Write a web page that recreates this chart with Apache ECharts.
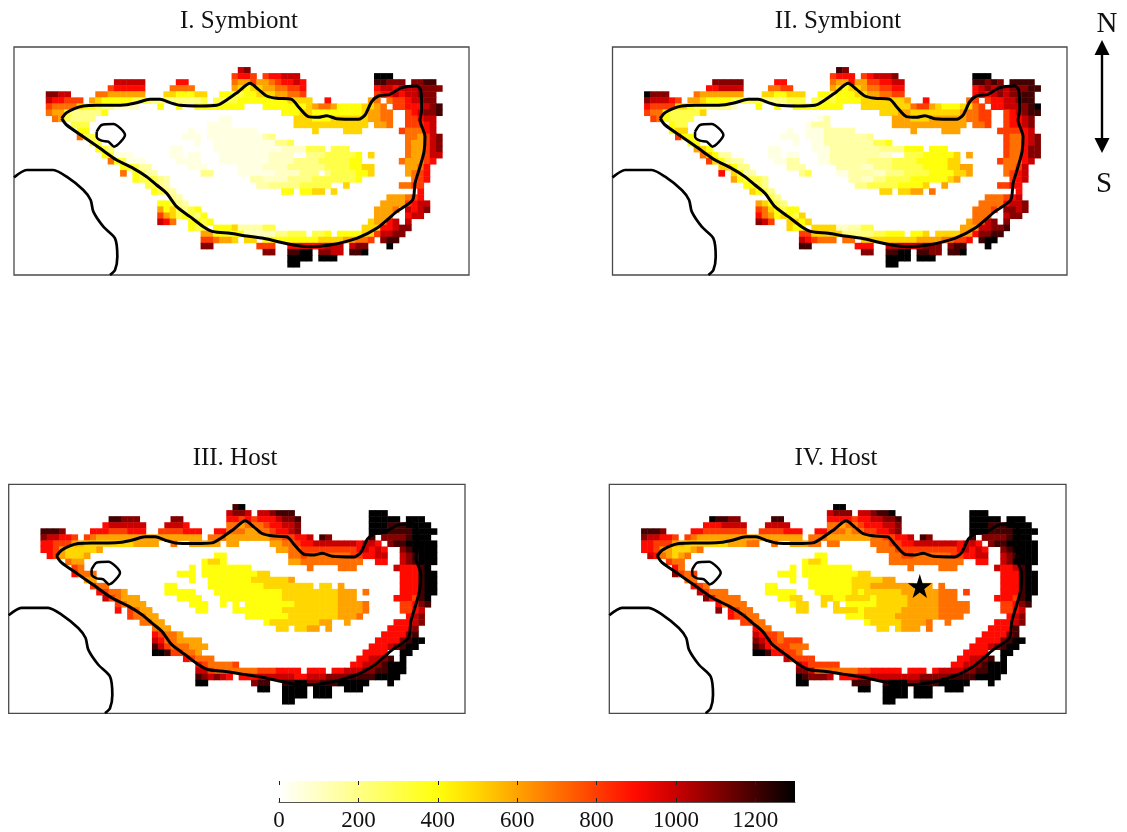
<!DOCTYPE html>
<html><head><meta charset="utf-8">
<style>html,body{margin:0;padding:0;background:#fff}#c{width:1127px;height:832px;filter:blur(0.45px)}</style>
<script src="https://cdn.jsdelivr.net/npm/echarts@6/dist/echarts.min.js"></script></head>
<body><div id="c"></div>
<script>
// Cell values. Each row: "startColumn:codes"; code digit/letter = hundreds (a=1000 ... d=1300), , = 50, ; = 150
const symbiontI = [
"31:ab","30:8998 35:899aaa 53:ddd","11:aaaaa 21:99 30:7668 34:667899a9 53:ccbbb 59:bbcc",
"10:899999 20:7777 30:6545 34:56677889 53:9aa9a 58:aabbbb",
"0:bbaa 8:77666666 19:5544455 28:44334455566 39:778 53:899a9 58:aabbb",
"0:a99888 7:65 9:4444433322 19:222222 25:3 27:33334444 35:44445 40:555 45:9 52:67 55:7889aabb",
"0:87777 5:5443221111 18:4 21:4 24:44444444 35:444444 41:45 43:6776 47:4444 51:55 53:67 56:88999abc",
"0:766 3:3222224 38:44455 43:4444444 50:45 52:6677 58:89abbc",
"1:76 3:32222 28:,, 40:555444555555 52:6677 58:889aa",
"4:333 26:,,,, 40:555555555555 53:667 58:8889a",
"5:44 23:, 26:,,,,,,,, 43:5 48:555 57:87779a",
"5:7 6:33 22:,,, 26:,,,,,,,,, 35:;2 58:7768ab",
"7:33 24:, 27:,,,,,,,,,, 37:223 58:7668ab",
"8:432 20:,, 27:,,,,,,,,,,, 38:1111 42:333 46:33 48:3 58:7668ab",
"9:43,, 13:, 20:,, 23:,, 28:,,,,,,,,1111 42:22233333 50:4 52:5 58:7668aa",
"10:743,,, 21:,,,, 28:,,,,,,,,1111 40:222 43:2333 47:3344 57:766689",
"12:443;; 23:,,, 31:,,,, 35:1111 39:2222 43:2233 47:334455 58:6679",
"12:7 14:43;; 25:22 31:,,,,,, 37:1111 41:222 45:233 48:33445 58:6789",
"14:43332; 33:;;1111 39:2222 43:3333 47:33 49:34 59:789",
"16:332; 34:;;2222 40:23333 45:3 48:5 57:7788",
"17:432; 38:44 41:4455 46:5 60:9",
"20:2; 55:6667 59:89",
"18:44 20:32; 54:6666 58:89aa",
"18:645 21:32 23:34 53:6667 58:a9ab",
"18:865 21:34 23:32 25:4 53:666 58:9aa",
"18:a97 23:44 25:34 52:566 55:9a 58:a",
"23:433 27:4444 30:5 31:;;;; 35:33 51:555 54:99abb",
"25:66 27:44444 32:11111 37:223 40:33 43:334 47:4444 51:55 53:8aabb",
"25:887665 32:55 35:444 38:4444 42:445 45:555 48:667 51:78 54:bcc",
"25:bb 34:888 39:99999 44:9aaa 49:abb 55:d",
"35:bb 39:ccdd 44:bbaa 49:ccd","39:dddd 44:ddd","39:dd"];

const symbiontII = [
"31:cb","30:8999 35:89aaab 53:ddd","11:bbbbb 21:99 30:7669 34:668899aa 53:ccbcb 59:cccc",
"10:99aaaa 20:7788 30:6545 34:56778899 53:9abab 58:abbbcc",
"0:dbbb 8:76666666 19:5544555 28:44344455667 39:788 53:9a9ab 58:abbcc",
"0:baaa98 7:66 9:5444433333 19:222233 25:3 27:33434444 35:55555 40:556 45:9 52:78 55:899aabcc",
"0:98888 5:5543322221 18:4 21:4 24:44444444 35:555555 41:55 43:7886 47:5444 51:55 53:78 56:99aaabcd",
"0:877 3:4333335 38:55566 43:5555555 50:56 52:7788 58:89abcc",
"1:87 3:43333 28:,; 40:666555666666 52:7788 58:899ab",
"4:433 26:,;;; 40:666666666666 53:778 58:899ab",
"4:4 5:55 23:, 26:,,,;;;;; 43:6 48:666 57:88889a",
"5:8 6:44 22:,,, 26:,,,;;;;;; 35:;2 58:8779ab",
"7:44 24:, 27:,,;;;;;;;; 37:334 58:8779ab",
"8:654 20:,, 27:,,,;;;;;;;; 38:2222 42:444 46:44 48:4 58:8779bb",
"9:754;; 13:; 20:,, 23:,, 28:,,;;;;;;;;11 42:33344444 50:5 52:6 58:8779bb",
"10:8542;; 21:,,;; 28:,,;;;;;;2222 40:333 43:3444 47:4455 57:87779a",
"12:55422 23:;;; 31:;;;; 35:1122 39:2333 43:3344 47:445566 58:778a",
"12:9 14:54;; 25:23 31:,,;;;; 37:1122 41:2333 45:344 48:44556 58:789a",
"14:643332 33:;;1122 39:3333 43:4444 47:44 49:56 59:89a",
"16:4432 34:2233 38:33 40:34444 45:5 48:6 57:8899",
"17:5432 38:55 41:5566 46:7 60:9",
"20:32 55:7778 59:9a",
"18:65 20:432 54:7777 58:9aab",
"18:875 21:43 23:44 53:7778 58:bbab",
"18:976 21:45 23:43 25:5 53:777 58:abb",
"18:ba8 23:55 25:45 52:677 55:ab 58:b",
"23:544 27:5555 31:11;; 35:33 51:666 54:aabbc",
"25:88 27:55555 32:22222 37:334 40:44 43:445 47:5555 51:66 53:9bbcc",
"25:a98777 32:77 35:555 38:5555 42:556 45:666 48:778 51:89 54:cdd",
"25:cc 34:999 39:aaaaa 44:abbb 49:bcc 55:d",
"35:bb 39:ccdd 44:ccbb 49:ccd","39:dddd 44:ddd","39:dd"];

const hostIII = [
"31:cd","30:abba 35:aabccc 53:ddd","11:ccbbb 21:bb 30:9989 34:8999abbc 53:ddddd 59:ddd",
"10:9aaaaaa 20:aaa9 30:7767 34:77899aab 53:dddcc 58:cdddd",
"0:cccb 8:999888999 19:8888999 28:99 30:7776 34:677899ab 53:dddcc 58:ccdddd",
"0:baa998 7:8 8:766666666 17:666666666 27:7776666 34:666 37:778899a 45:cb 53:c 55:bbbbcddd",
"0:99888 5:66555555556666 18:6 21:7 24:66666 30:66 37:66778 42:9 43:9aaa 47:aaaa 51:9 52:aa 54:9 56:bccddddd",
"0:998 3:6555556 38:66778 43:8888888 50:89 52:a9a9 58:bcdddd",
"1:98 3:65556 28:44 40:778777777788 52:99aa 58:abcddd",
"4:766 26:4554 40:667777777777 54:99 58:abcddd",
"5:87 24:4 26:44444444 43:7 48:777 57:a999cd",
"5:9 6:777 22:444 26:444444444 35:55 58:999cdd",
"7:66 24:4 27:4444444 34:5555 38:556 58:999cdd",
"8:877 20:44 27:4444444 34:44555 39:555 42:55 45:55 48:6 58:999cdd",
"9:98776 20:44 22:444 28:4444444 35:444455 41:555555 47:56 49:66 52:7 58:999cdd",
"10:a87666 22:4444 29:44 31:444 34:444 37:4455 41:55555 46:55666 57:9998cd",
"12:87666 24:444 29:4 31:4 33:4444444455 43:5555566667 58:889bc",
"12:9 14:8766 25:44 31:4444 35:444455 41:555555 47:5 48:66667 58:889a",
"14:87766 33:444444 39:4555555 46:55 48:66 50:67 59:9ab",
"16:7766 36:4555 40:55555 45:6 46:6 49:6 57:99 59:9ab",
"18:766 38:55 41:5566 46:6 56:999 59:9 60:b",
"18:98776 55:9999 59:bc",
"18:a9776 23:666 54:9999 58:bcdd",
"18:ca87 22:77666 53:999 56:abcdd",
"18:ddc 21:88 23:776 52:9999 58:dd",
"23:987 26:77 51:99aa 55:bc 58:d",
"25:987777 31:8 50:9 51:9aab 55:cddd",
"25:aa8 28:7777 32:77788 37:89999 43:999 47:99aa 51:abbcc 56:ddd",
"25:cbaba9 32:999 35:aaa 38:aaa 41:99 43:aa 45:ab 47:bb 49:bcc 52:cc 54:dddd",
"25:dd 34:bcc 39:ccdd 43:bbcc 47:cdd 50:ddd 56:d",
"35:dd 39:dddd 44:ddd 49:ddd","39:dddd 44:ddd","39:dd"];

const hostIV = [
"31:dd","30:abbb 35:aabccd 53:ddd","11:dccbb 21:cc 30:9999 34:899aabbc 53:ddddd 59:ddd",
"10:999aaaa 20:aaaa 30:7767 34:78999aab 53:dddcc 58:cdddd",
"0:cccb 8:998888888 19:8888999 28:99 30:7776 34:778899ab 53:dddcc 58:ccdddd",
"0:baa998 7:8 8:766666666 17:666666666 27:7776666 34:666 37:778899a 45:cb 53:c 55:bbbbcddd",
"0:99888 5:66555555566677 18:7 21:7 24:66677 30:77 37:77788 42:9 43:9aaa 47:aaaa 51:9 52:aa 54:9 56:bccddddd",
"0:998 3:6655567 38:77788 43:8888888 50:89 52:a9a9 58:bcdddd",
"1:a9 3:76567 28:44 40:778877777788 52:99aa 58:abcddd",
"4:877 26:4554 40:777777777777 54:99 58:abdddd",
"5:97 24:4 26:44444444 43:7 48:777 57:a99acd",
"5:b 6:878 22:444 26:444444444 35:55 58:999cdd",
"7:77 24:4 27:4444444 34:5555 38:566 58:999cdd",
"8:987 20:44 27:4444444 34:55566 39:666 42:66 45:66 48:7 58:999cdd",
"9:a8777 20:44 22:444 28:4444445 35:455555 41:566666 47:67 49:77 52:8 58:999cdd",
"10:b97777 22:4455 29:55 31:445 34:555 37:4555 41:55666 46:66777 57:9998cd",
"12:97777 24:455 29:5 31:5 33:44444 38:55555 43:6666677777 58:889bc",
"12:b 14:9877 25:55 31:5555 35:455555 41:566666 47:6 48:77777 58:889a",
"14:98877 33:444555 39:5566666 46:66 48:77 50:77 59:9ab",
"16:8877 36:4555 40:55666 45:6 46:7 49:7 57:99 59:9ab",
"18:977 38:55 41:5666 46:7 56:999 59:9 60:c",
"18:a9887 55:9999 59:bc",
"18:ba987 23:888 54:9999 58:bcdd",
"18:cb98 22:88777 53:999 56:abcdd",
"18:ddc 21:99 23:887 52:9999 58:dd",
"23:a88 26:88 51:99aa 55:bc 58:d",
"25:a98888 31:8 50:9 51:9aab 55:cddd",
"25:bba 28:7777 32:77788 37:99999 43:999 47:9aaa 51:abbcc 56:ddd",
"25:dcbbba 32:999 35:aaa 38:aaa 41:aa 43:aa 45:bb 47:bb 49:bcc 52:cc 54:dddd",
"25:dd 34:ccc 39:cddd 43:bbcc 47:cdd 50:ddd 56:d",
"35:dd 39:dddd 44:ddd 49:ddd","39:dddd 44:ddd","39:dd"];

// Contours, in the panel's read-off units (3 units per pixel)
const reefOutline = [[185,355],[200,338],[225,325],[250,318],[290,316],[340,316],[380,314],[410,308],[450,298],[480,298],[510,308],[540,316],[600,318],[650,316],[680,300],[715,275],[750,250],[775,268],[800,288],[830,295],[875,298],[895,320],[925,350],[955,352],[980,347],[1010,356],[1075,358],[1095,345],[1115,305],[1135,288],[1170,283],[1205,263],[1250,258],[1262,270],[1265,330],[1260,360],[1275,410],[1272,455],[1260,500],[1245,550],[1238,600],[1190,635],[1130,685],[1070,715],[990,735],[930,740],[880,735],[790,715],[740,708],[690,700],[640,695],[610,680],[570,650],[530,620],[500,580],[470,555],[440,530],[400,505],[350,480],[300,445],[250,410],[200,375],[185,355]];
const islandOutline = [[290,395],[305,375],[340,372],[375,405],[342,440],[325,425],[305,422],[290,410],[290,395]];
const coastOutline = [[42,532],[80,510],[160,510],[200,530],[250,570],[272,600],[280,635],[310,680],[345,715],[352,770],[345,810],[330,825]];
const starPoint = [[970,445]];

const colorStops = ['#ffffff','#ffffc3','#ffff86','#ffff49','#ffff0c','#ffd600','#ffa300','#ff7000','#ff3d00','#ff0a00','#c90000','#860000','#430000','#000000'];
const colorbarTicks = [0,200,400,600,800,1000,1200];
const panelTitles = ['I. Symbiont','II. Symbiont','III. Host','IV. Host'];
const panelTables = [symbiontI,symbiontII,hostIII,hostIV];
const columns = Array.from({length:64},(_,i)=>String(i));
const rows = Array.from({length:33},(_,i)=>String(i));

// layout only
const frames = [{l:14,t:47,w:455,h:228},{l:612.5,t:47,w:454.5,h:228},{l:8.7,t:484.3,w:456.3,h:229},{l:609.3,t:484.3,w:456.7,h:229}];
const heats = [{l:46,t:67.3},{l:644.3,t:67.3},{l:40.7,t:504.3},{l:641.3,t:504.3}];
const titlePos = [[239,9],[838,9],[235,446],[836,446]];
const serif = '"Liberation Serif", serif';

function code(ch){
  if(ch===',')return 50; if(ch===';')return 150;
  return parseInt(ch,36)*100;
}
function decode(table){
  const out=[];
  table.forEach((row,r)=>row.split(' ').forEach(seg=>{
    const [s,vals]=seg.split(':');
    [...vals].forEach((ch,i)=>out.push([+s+i,r,code(ch)]));
  }));
  return out;
}

const grid=[],xAxis=[],yAxis=[],series=[],title=[];
heats.forEach((h,i)=>{
  grid.push({left:h.l,top:h.t,width:396.4,height:200});
  xAxis.push({type:'category',gridIndex:i,data:columns,show:false});
  yAxis.push({type:'category',gridIndex:i,data:rows,inverse:true,show:false});
  series.push({type:'heatmap',xAxisIndex:i,yAxisIndex:i,data:decode(panelTables[i]),z:2,progressive:0,emphasis:{disabled:true}});
});
frames.forEach((f,i)=>{
  const g=i+4;
  grid.push({left:f.l,top:f.t,width:f.w,height:f.h,show:true,borderColor:'#4a4a4a',borderWidth:1.3,backgroundColor:'transparent'});
  xAxis.push({type:'value',gridIndex:g,min:42,max:1407,show:false});
  yAxis.push({type:'value',gridIndex:g,min:141,max:825,inverse:true,show:false});
  [[reefOutline,3],[islandOutline,2.5],[coastOutline,2.7]].forEach(([d,w])=>{
    series.push({type:'line',xAxisIndex:g,yAxisIndex:g,data:d,showSymbol:false,smooth:0.25,z:5,silent:true,
      lineStyle:{color:'#000',width:w}});
  });
  title.push({text:panelTitles[i],left:titlePos[i][0],top:titlePos[i][1],textAlign:'center',padding:0,
    textStyle:{fontFamily:serif,fontSize:25,fontWeight:'normal',color:'#111'}});
});
series.push({type:'scatter',xAxisIndex:7,yAxisIndex:7,data:starPoint,z:6,silent:true,
  symbol:'path://M50 0 L61 35 L98 35 L68 57 L79 91 L50 70 L21 91 L32 57 L2 35 L39 35 Z',symbolSize:24,itemStyle:{color:'#000',opacity:1}});

// colour bar: axis over a gradient built from the same colour stops
grid.push({left:279,top:781,width:516,height:23,show:true,borderWidth:0,
  backgroundColor:{type:'linear',x:0,y:0,x2:1,y2:0,colorStops:colorStops.map((c,i)=>({offset:i/(colorStops.length-1),color:c}))}});
xAxis.push({type:'value',gridIndex:8,min:0,max:1300,position:'bottom',
  axisLine:{show:true,lineStyle:{color:'#555',width:1.2}},
  axisTick:{show:true,inside:true,length:4,customValues:colorbarTicks,lineStyle:{color:'#222'}},
  axisLabel:{customValues:colorbarTicks,margin:7,fontFamily:serif,fontSize:23,color:'#111',formatter:v=>String(v)},splitLine:{show:false}});
xAxis.push({type:'value',gridIndex:8,min:0,max:1300,position:'top',
  axisLine:{show:false},axisTick:{show:true,inside:true,length:4,customValues:colorbarTicks,lineStyle:{color:'#222'}},
  axisLabel:{show:false},splitLine:{show:false}});
yAxis.push({type:'value',gridIndex:8,min:0,max:1,show:false});

title.push({text:'N',left:1107,top:10,textAlign:'center',padding:0,textStyle:{fontFamily:serif,fontSize:29,fontWeight:'normal',color:'#111'}});
title.push({text:'S',left:1104,top:170,textAlign:'center',padding:0,textStyle:{fontFamily:serif,fontSize:29,fontWeight:'normal',color:'#111'}});

const chart=echarts.init(document.getElementById('c'),null,{renderer:'canvas'});
chart.setOption({
  animation:false,backgroundColor:'#fff',title,grid,xAxis,yAxis,series,
  visualMap:{type:'continuous',show:false,min:0,max:1300,seriesIndex:[0,1,2,3],inRange:{color:colorStops}},
  graphic:[
    {type:'line',shape:{x1:1102,y1:50,x2:1102,y2:142},style:{stroke:'#000',lineWidth:2.4}},
    {type:'polygon',shape:{points:[[1102,40],[1094.5,55],[1109.5,55]]},style:{fill:'#000'}},
    {type:'polygon',shape:{points:[[1102,153],[1094.5,138],[1109.5,138]]},style:{fill:'#000'}}
  ]
});
</script></body></html>
